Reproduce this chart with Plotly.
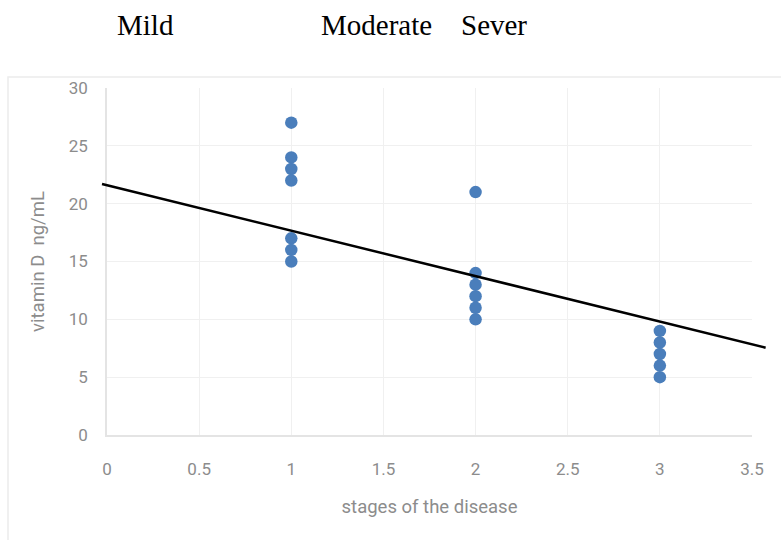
import plotly.graph_objects as go

# ---- data ----
stage = [1, 1, 1, 1, 1, 1, 1,
         2, 2, 2, 2, 2, 2,
         3, 3, 3, 3, 3]
vitamin_d = [27, 24, 23, 22, 17, 16, 15,
             21, 14, 13, 12, 11, 10,
             9, 8, 7, 6, 5]
trend_x = [-0.027, 3.574]
trend_y = [21.7, 7.55]
x_ticks = [0, 0.5, 1, 1.5, 2, 2.5, 3, 3.5]
x_tick_labels = ["0", "0.5", "1", "1.5", "2", "2.5", "3", "3.5"]
y_ticks = [0, 5, 10, 15, 20, 25, 30]
severity_labels = ["Mild", "Moderate", "Sever"]
severity_label_px = [115, 319, 459]

W, H = 781, 540
px_per_unit = (752 - 107) / 3.5

def fx(px):
    return px / W

def fy(px):
    return 1 - px / H

grey = "#8c8c8c"
tick_font = dict(family="Roboto, Liberation Sans, sans-serif", size=17, color=grey)
title_font = dict(family="Roboto, Liberation Sans, sans-serif", size=18.5, color=grey)

fig = go.Figure()

fig.add_trace(go.Scatter(
    x=stage, y=vitamin_d, mode="markers",
    marker=dict(color="#4a7ebb", size=12.5, line=dict(width=0)),
    xaxis="x", yaxis="y", showlegend=False, cliponaxis=False,
))

fig.add_trace(go.Scatter(
    x=trend_x, y=trend_y, mode="lines",
    line=dict(color="black", width=2.5),
    xaxis="x2", yaxis="y2", showlegend=False,
))

x2_left_px, x2_right_px = 95, 776
fig.update_layout(
    width=W, height=H,
    margin=dict(l=0, r=0, t=0, b=0, autoexpand=False),
    paper_bgcolor="white", plot_bgcolor="rgba(0,0,0,0)",
    xaxis=dict(
        domain=[fx(107), fx(752)], range=[0, 3.5],
        tickvals=x_ticks, ticktext=x_tick_labels,
        showgrid=True, gridcolor="#f0f0f0", gridwidth=1,
        showline=True, linecolor="#e4e4e4", linewidth=1.5,
        zeroline=False, automargin=False,
        ticks="outside", ticklen=18, tickcolor="rgba(0,0,0,0)",
        tickfont=tick_font,
        title=dict(text="stages of the disease", font=title_font, standoff=22),
        anchor="y",
    ),
    yaxis=dict(
        domain=[fy(435), fy(88)], range=[0, 30],
        tickvals=y_ticks,
        showgrid=True, gridcolor="#f0f0f0", gridwidth=1,
        showline=True, linecolor="#e4e4e4", linewidth=1.5,
        zeroline=False, automargin=False,
        ticks="outside", ticklen=14, tickcolor="rgba(0,0,0,0)",
        tickfont=tick_font,
        title=dict(text="vitamin D  ng/mL", font=title_font, standoff=19),
        anchor="x",
    ),
    xaxis2=dict(
        domain=[fx(x2_left_px), fx(x2_right_px)],
        range=[(x2_left_px - 107) / px_per_unit, (x2_right_px - 107) / px_per_unit],
        visible=False, anchor="y2", automargin=False,
    ),
    yaxis2=dict(
        domain=[fy(435), fy(88)], range=[0, 30],
        visible=False, anchor="x2", automargin=False,
    ),
)

# outer chart border
fig.add_shape(type="rect", xref="paper", yref="paper",
              x0=fx(8), x1=1.05, y0=-0.05, y1=fy(77),
              line=dict(color="#ececec", width=1.5), layer="below")

for lbl, px in zip(severity_labels, severity_label_px):
    fig.add_annotation(
        text=lbl, xref="paper", yref="paper",
        x=fx(px), y=fy(25), xanchor="left", yanchor="middle",
        showarrow=False,
        font=dict(family="Liberation Serif, Times New Roman, serif", size=29, color="black"),
    )

fig.write_html("out.html", config={"displayModeBar": False},
               post_script="document.body.style.margin='0px';")
